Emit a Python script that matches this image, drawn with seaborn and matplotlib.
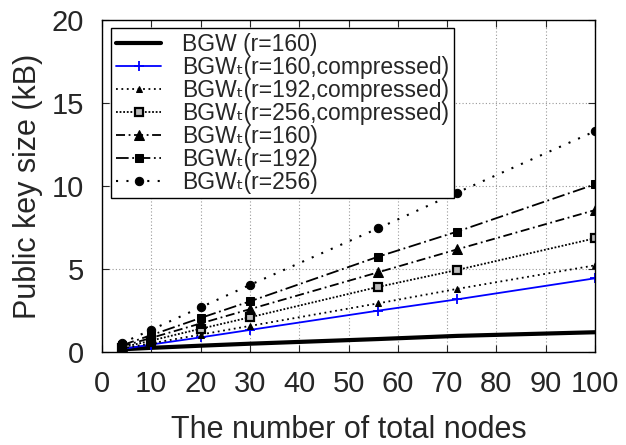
import matplotlib
matplotlib.use('Agg')
import pandas as pd
import seaborn as sns
import matplotlib.pyplot as plt

# node counts on the x axis
x_nodes = [4, 10, 20, 30, 56, 72, 100]

# public key size in kB
bgw_160 = [0.16, 0.25, 0.38, 0.50, 0.78, 0.97, 1.19]
bgwt_160_c = [0.18, 0.45, 0.88, 1.33, 2.49, 3.17, 4.44]
bgwt_192_c = [0.21, 0.52, 1.05, 1.57, 2.93, 3.80, 5.22]
bgwt_256_c = [0.27, 0.69, 1.40, 2.09, 3.92, 4.94, 6.85]
bgwt_160 = [0.34, 0.85, 1.72, 2.58, 4.80, 6.18, 8.55]
bgwt_192 = [0.40, 1.02, 2.05, 3.05, 5.74, 7.25, 10.1]
bgwt_256 = [0.53, 1.34, 2.69, 4.04, 7.45, 9.60, 13.3]

labels = [
    'BGW (r=160)',
    'BGW\u209c(r=160,compressed)',
    'BGW\u209c(r=192,compressed)',
    'BGW\u209c(r=256,compressed)',
    'BGW\u209c(r=160)',
    'BGW\u209c(r=192)',
    'BGW\u209c(r=256)',
]
series = [bgw_160, bgwt_160_c, bgwt_192_c, bgwt_256_c, bgwt_160, bgwt_192, bgwt_256]

# line look per series (gnuplot-ish)
styles = [
    dict(color='black', lw=3.0, marker=None, dashes=None),
    dict(color='#0000ff', lw=1.3, marker='+', ms=7, mew=1.3, dashes=None),
    dict(color='black', lw=1.3, marker='^', ms=4, dashes=(1, 2)),
    dict(color='black', lw=1.3, marker='s', ms=6, mfc='#bbbbbb', mew=1.6, dashes=(1, 1)),
    dict(color='black', lw=1.3, marker='^', ms=7, dashes=(5, 2, 1, 2)),
    dict(color='black', lw=1.3, marker='s', ms=6, dashes=(7, 2, 1, 2)),
    dict(color='black', lw=1.5, marker='o', ms=6, dashes=(1, 4)),
]

sns.set_style('ticks')
plt.rcParams['font.family'] = ['Liberation Sans', 'DejaVu Sans']

fig = plt.figure(figsize=(6.26, 4.45), dpi=100)
ax = fig.add_axes([0.163, 0.209, 0.7875, 0.746])

for lab, vals, st in zip(labels, series, styles):
    df = pd.DataFrame({'nodes': x_nodes, 'size': vals})
    st = dict(st)
    dashes = st.pop('dashes')
    sns.lineplot(data=df, x='nodes', y='size', ax=ax, label=lab,
                 color=st.pop('color'), linewidth=st.pop('lw'),
                 marker=st.pop('marker'), markersize=st.pop('ms', 6), **st)
    l = ax.get_lines()[-1]
    if dashes is not None:
        l.set_dashes(dashes)
    l.set_markeredgecolor(l.get_color())

ax.set_xlim(0, 100)
ax.set_ylim(0, 20)
ax.set_xticks(range(0, 101, 10))
ax.set_yticks([0, 5, 10, 15, 20])
ax.grid(True, linestyle=(0, (1, 2)), color='#999999', linewidth=0.8)
ax.tick_params(direction='in', top=True, right=True, labelsize=21, length=5, width=0.8, pad=13)
for sp in ax.spines.values():
    sp.set_color('black')
    sp.set_linewidth(1.0)
ax.set_xlabel('The number of total nodes', fontsize=22, labelpad=12)
ax.set_ylabel('Public key size (kB)', fontsize=22, labelpad=6)

handles, labs = ax.get_legend_handles_labels()
leg = ax.legend(handles, labs, loc='upper left', bbox_to_anchor=(111 / 626, 1 - 28 / 445),
                bbox_transform=fig.transFigure, borderaxespad=0, fontsize=16.5,
                fancybox=False, framealpha=1, edgecolor='black', handlelength=2.0,
                labelspacing=0.0, borderpad=0.2, handletextpad=0.9)
leg.get_frame().set_linewidth(1.0)

fig.savefig('out.png', dpi=100)
